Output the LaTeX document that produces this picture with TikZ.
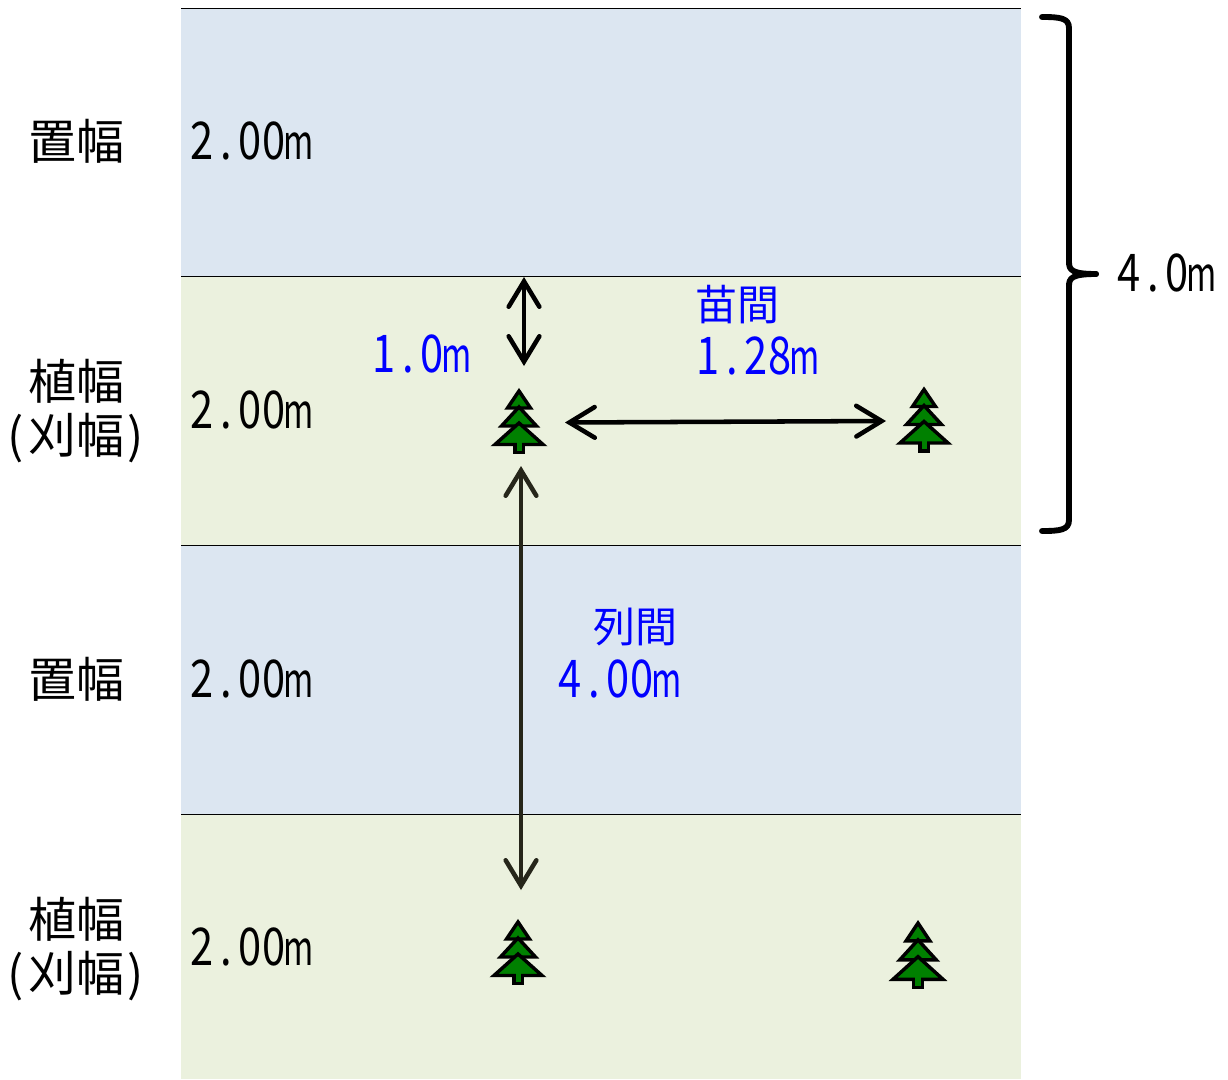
\documentclass[tikz,border=0pt]{standalone}
\usepackage{fontspec}
\usetikzlibrary{arrows.meta}
\newfontfamily\cjk{Noto Sans CJK JP}
\newfontfamily\dgt[FakeStretch=0.80]{Noto Sans CJK JP}
\newfontfamily\mfnt[FakeStretch=0.68]{Noto Sans CJK JP}
\makeatletter
\newcommand\hw[1]{\@tfor\hw@c:=#1\do{\makebox[18pt]{\dgt\fontsize{39pt}{39pt}\selectfont\hw@c}}\makebox[18pt]{\mfnt m}}
\makeatother
\newcommand\hp[1]{\makebox[18pt]{\cjk #1}}
\definecolor{bandblue}{HTML}{DCE6F1}
\definecolor{bandgreen}{HTML}{EBF1DE}
\definecolor{treegreen}{HTML}{008000}
\definecolor{darkolive}{HTML}{26261A}
\tikzset{
  x=0.75pt,y=-0.75pt,
  lbl/.style={inner sep=0,font=\fontsize{36pt}{36pt}\selectfont\cjk,anchor=base},
  smalllbl/.style={inner sep=0,font=\fontsize{31.5pt}{32pt}\selectfont\cjk,anchor=base west,text=blue},
  val/.style={inner sep=0,font=\fontsize{36pt}{36pt}\selectfont,anchor=base west},
  bluetext/.style={text=blue},
  dim/.style={line width=3.4pt,line cap=round,{Straight Barb[length=19pt,width=23pt,line cap=round]}-{Straight Barb[length=19pt,width=23pt,line cap=round]}},
  treeshape/.style={draw=black,fill=treegreen,line width=2.6pt,miter limit=10,line join=miter},
  pics/tree/.style={code={
    \path[treeshape] (-4,50) rectangle (4,63.5);
    \path[treeshape] (0,2) -- (11.5,19) -- (-11.5,19) -- cycle;
    \path[treeshape] (0,18) -- (17.5,37) -- (-17.5,37) -- cycle;
    \path[treeshape] (0,34) -- (24,55.5) -- (-24,55.5) -- cycle;
    \fill[treegreen] (-2.5,52) rectangle (2.5,61.8);
  }}
}
\begin{document}
\begin{tikzpicture}
\useasboundingbox (0,0) rectangle (1228,1079);
\fill[bandblue] (181,8) rectangle (1021,276);
\fill[bandgreen] (181,276) rectangle (1021,545);
\fill[bandblue] (181,545) rectangle (1021,814);
\fill[bandgreen] (181,814) rectangle (1021,1079);
\foreach \yy in {8,276,545,814} \draw[black,line width=0.75pt] (181,\yy) -- (1021,\yy);

\node[lbl] (o1) at (76,159) {置幅};
\node[lbl] (p1) at (76,399) {植幅};
\node[lbl] (p1b) at (76,453) {\hp{(}刈幅\hp{)}};
\node[lbl] (o2) at (76,697) {置幅};
\node[lbl] (p2) at (76,937) {植幅};
\node[lbl] (p2b) at (76,991) {\hp{(}刈幅\hp{)}};

\node[val] (w1) at (190,159) {\hw{2.00}};
\node[val] (w2) at (190,428) {\hw{2.00}};
\node[val] (w3) at (190,697) {\hw{2.00}};
\node[val] (w4) at (190,965) {\hw{2.00}};

\node[val,bluetext] (d1) at (372,372) {\hw{1.0}};
\node[smalllbl] (s1) at (695,320) {苗間};
\node[val,bluetext] (s2) at (696,374) {\hw{1.28}};
\node[smalllbl] (c1) at (593,642) {列間};
\node[val,bluetext] (c2) at (558,697) {\hw{4.00}};
\node[val] (tot) at (1117,291) {\hw{4.0}};

\pic at (519,389) {tree};
\pic at (924,387.5) {tree};
\pic at (518,920) {tree};
\pic[yscale=1.05,xscale=1.04] at (918,921) {tree};

\coordinate (a1s) at (524,277); \coordinate (a1e) at (524,366);
\coordinate (a2s) at (565,422.5); \coordinate (a2e) at (886,421);
\coordinate (a3s) at (521,466); \coordinate (a3e) at (521,890);
\draw[dim] (a1s) -- (a1e);
\draw[dim] (a2s) -- (a2e);
\draw[dim,draw=darkolive] (a3s) -- (a3e);

\coordinate (b1) at (1042,17); \coordinate (b2) at (1096,274); \coordinate (b3) at (1042,531);
\draw[line width=4.4pt,line cap=round,line join=round] (b1) .. controls (1060,17) and (1069,18) .. (1069,28) -- (1069,262) .. controls (1069,270) and (1072,274) .. (b2);
\draw[line width=4.4pt,line cap=round,line join=round] (b2) .. controls (1072,274) and (1069,278) .. (1069,286) -- (1069,520) .. controls (1069,530) and (1060,531) .. (b3);
\end{tikzpicture}
\end{document}
